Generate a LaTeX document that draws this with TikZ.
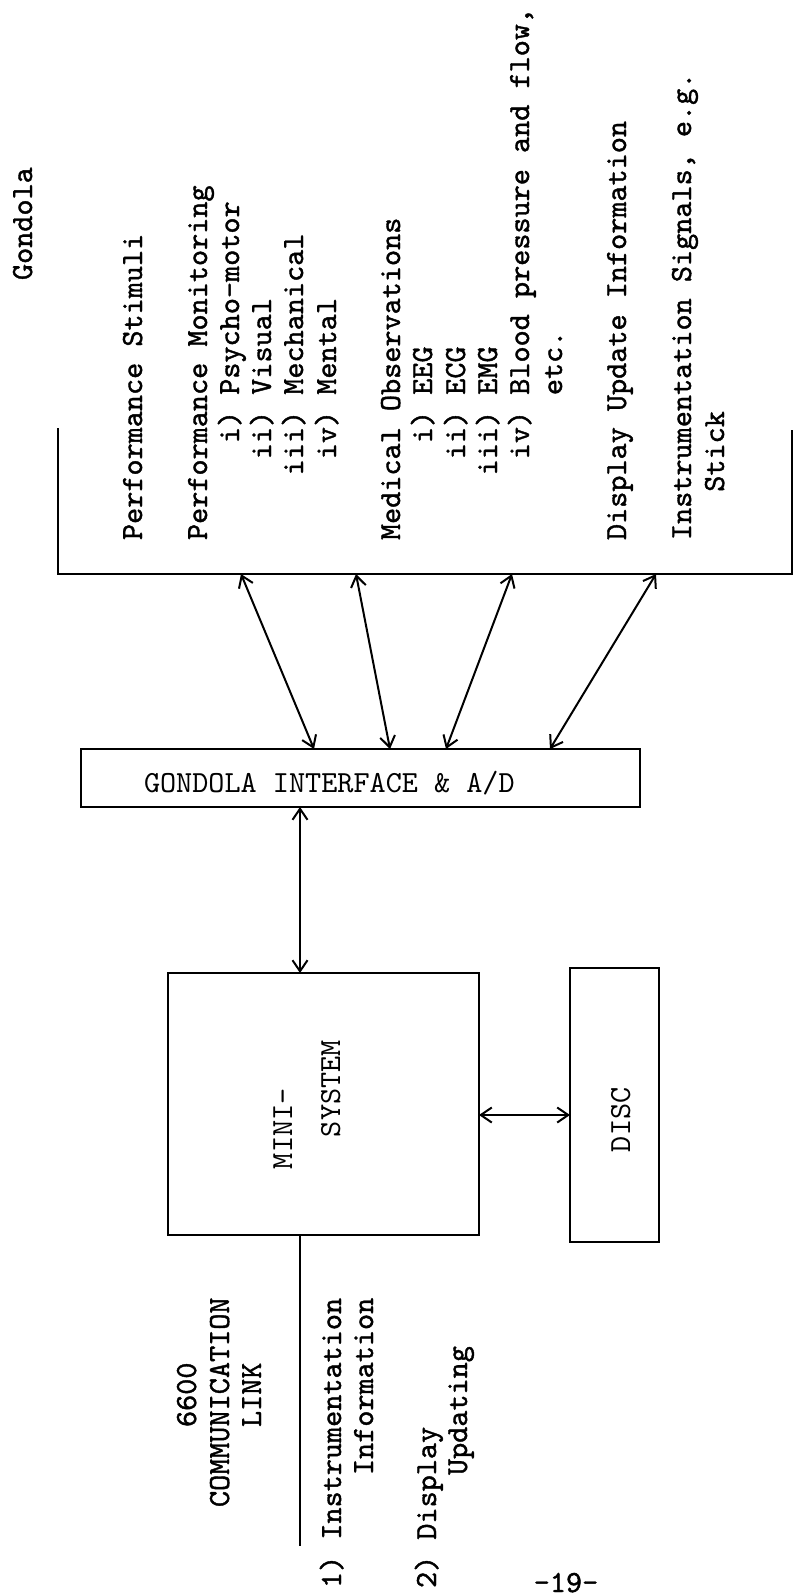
\documentclass[tikz,border=0pt]{standalone}
\usepackage{fontspec}
\newfontfamily\twbold{lmmono10-regular.otf}[FakeBold=1.3]
\newfontfamily\twthin{lmmono10-regular.otf}
\usetikzlibrary{arrows.meta}
\begin{document}
\begin{tikzpicture}[x=1pt,y=-1pt,
  tw/.style={font=\twbold\fontsize{30.7}{33}\selectfont, inner sep=0pt, outer sep=0pt},
  twl/.style={font=\twthin\fontsize{30.7}{33}\selectfont, inner sep=0pt, outer sep=0pt},
  vt/.style={tw, rotate=90, anchor=base west},
  vtl/.style={twl, rotate=90, anchor=base west},
  ht/.style={twl, anchor=base west},
  boxline/.style={line width=2.8pt},
  box/.style={draw, boxline, inner sep=0pt, outer sep=0pt, anchor=north west},
  link/.style={line width=2pt, {Straight Barb[length=11pt,width=15pt]}-{Straight Barb[length=11pt,width=15pt]}},
]
\useasboundingbox (0,0) rectangle (794,1596);

% ---------- Gondola (open box) ----------
\coordinate (gtl) at (58,428);
\coordinate (gbl) at (58,574);
\coordinate (gbr) at (792,574);
\coordinate (gtr) at (792,430);
\draw[boxline] (gtl) -- (gbl) -- (gbr) -- (gtr);

\node[vt] (gon) at (32,280) {Gondola};

\node[vt] (t0)  at (142,540)   {Performance Stimuli};
\node[vt] (t2)  at (207,540)   {Performance Monitoring};
\node[vt] (t3)  at (239,443.1) {i) Psycho-motor};
\node[vt] (t4)  at (271,459.2) {ii) Visual};
\node[vt] (t5)  at (303,475.3) {iii) Mechanical};
\node[vt] (t6)  at (336,459.2) {iv) Mental};
\node[vt] (t8)  at (400,540)   {Medical Observations};
\node[vt] (t9)  at (432,443.1) {i) EEG};
\node[vt] (t10) at (465,459.2) {ii) ECG};
\node[vt] (t11) at (497,475.3) {iii) EMG};
\node[vt] (t12) at (529,459.2) {iv) Blood pressure and flow,};
\node[vt] (t13) at (562,395.1) {etc.};
\node[vt] (t15) at (626,540)   {Display Update Information};
\node[vt] (t17) at (691,540)   {Instrumentation Signals, e.g.};
\node[vt] (t18) at (724,491.7) {Stick};

% ---------- Interface ----------
\node[box, minimum width=559pt, minimum height=58pt] (iface) at (81,749) {};
\node[ht] (ifl) at (144,792) {GONDOLA INTERFACE \& A/D};

% ---------- Mini-system and disc ----------
\node[box, minimum width=311pt, minimum height=262pt] (mini) at (168,973) {};
\node[vtl] (mini1) at (292,1169) {MINI-};
\node[vtl] (mini2) at (340,1137) {SYSTEM};

\node[box, minimum width=89pt, minimum height=274pt] (disc) at (570,968) {};
\node[vtl] (discl) at (630,1152) {DISC};

% ---------- connector end points ----------
\coordinate (g1) at (241,574);  \coordinate (i1) at (314,749);
\coordinate (g2) at (356,574);  \coordinate (i2) at (390,749);
\coordinate (g3) at (512,574);  \coordinate (i3) at (446,749);
\coordinate (g4) at (656,574);  \coordinate (i4) at (550,749);
\coordinate (i5) at ([xshift=219pt]iface.south west);
\coordinate (m5) at ([xshift=132pt]mini.north west);
\coordinate (m6) at ([yshift=-142pt]mini.north east);
\coordinate (d6) at ([yshift=-147pt]disc.north west);
\coordinate (m7) at ([xshift=132pt]mini.south west);
\coordinate (lk) at (300,1546);

\draw[link] (g1) -- (i1);
\draw[link] (g2) -- (i2);
\draw[link] (g3) -- (i3);
\draw[link] (g4) -- (i4);
\draw[link] (i5) -- (m5);
\draw[link] (m6) -- (d6);
\draw[line width=2.4pt] (m7) -- (lk);

% ---------- communication link labels ----------
\node[vt] (c1) at (196,1427) {6600};
\node[vt] (c2) at (229,1507) {COMMUNICATION};
\node[vt] (c3) at (261,1427) {LINK};
\node[vt] (l1) at (341,1588) {1) Instrumentation};
\node[vt] (l1b) at (373,1475) {Information};
\node[vt] (l2) at (436,1588) {2) Display};
\node[vt] (l2b) at (467,1475) {Updating};

\node[tw, anchor=base] (pg) at (566,1592) {-19-};
\end{tikzpicture}
\end{document}
